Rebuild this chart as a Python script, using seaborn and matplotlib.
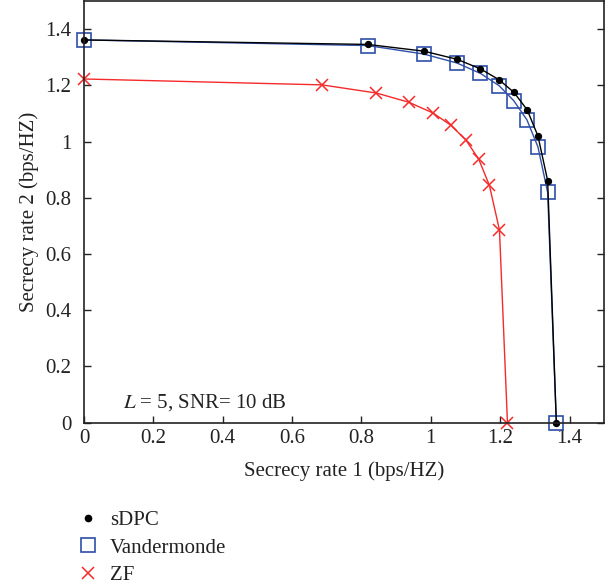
import numpy as np
import pandas as pd
import matplotlib
matplotlib.use("Agg")
import matplotlib.pyplot as plt
import seaborn as sns
from matplotlib.lines import Line2D

# values
sdpc_x = [0.0, 0.818, 0.980, 1.076, 1.143, 1.196, 1.240, 1.278, 1.309, 1.337, 1.362]
sdpc_y = [1.362, 1.346, 1.322, 1.293, 1.259, 1.221, 1.175, 1.113, 1.020, 0.861, 0.0]

vand_x = [0.0, 0.818, 0.979, 1.075, 1.143, 1.197, 1.239, 1.277, 1.309, 1.337, 1.362]
vand_y = [1.362, 1.342, 1.312, 1.280, 1.243, 1.199, 1.146, 1.078, 0.981, 0.819, 0.0]

zf_x = [0.0, 0.686, 0.843, 0.937, 1.006, 1.057, 1.101, 1.138, 1.169, 1.198, 1.221]
zf_y = [1.223, 1.202, 1.173, 1.140, 1.102, 1.059, 1.006, 0.938, 0.844, 0.685, 0.0]

x_ticks = [0, 0.2, 0.4, 0.6, 0.8, 1, 1.2, 1.4]
y_ticks = [0, 0.2, 0.4, 0.6, 0.8, 1, 1.2, 1.4]
tick_labels = ['0', '0.2', '0.4', '0.6', '0.8', '1', '1.2', '1.4']

sns.set_theme(style="white")
plt.rcParams['font.family'] = ['Liberation Serif', 'DejaVu Serif']
plt.rcParams['mathtext.fontset'] = 'stix'

fig = plt.figure(figsize=(6.14, 5.86), dpi=100)
ax = fig.add_axes([0.137, 0.279, 0.847, 0.719])

blue = '#2f4fa8'
red = '#f52a2a'
ink = '#222222'

df_s = pd.DataFrame({'x': sdpc_x, 'y': sdpc_y})
df_v = pd.DataFrame({'x': vand_x, 'y': vand_y})
df_z = pd.DataFrame({'x': zf_x, 'y': zf_y})

sns.lineplot(data=df_z, x='x', y='y', sort=False, ax=ax, color=red, lw=1.0,
             marker='x', markersize=8, markeredgewidth=1.1, markeredgecolor=red,
             clip_on=False)
sns.lineplot(data=df_v, x='x', y='y', sort=False, ax=ax, color=blue, lw=1.0,
             marker='s', markersize=10, markerfacecolor='none', markeredgecolor=blue,
             markeredgewidth=1.2, clip_on=False)
sns.lineplot(data=df_s, x='x', y='y', sort=False, ax=ax, color='black', lw=1.0,
             marker='o', markersize=4.5, markeredgecolor='black', clip_on=False)

ax.set_xlim(0, 1.5)
ax.set_ylim(0, 1.5)
ax.set_xticks(x_ticks)
ax.set_yticks(y_ticks)
ax.set_xticklabels(tick_labels)
ax.set_yticklabels(tick_labels)
ax.tick_params(direction='in', length=5, width=1, labelsize=15, colors=ink,
               right=True, left=True, bottom=True)
ax.tick_params(axis='x', pad=5)
ax.tick_params(axis='y', pad=9, labelright=False)
for side in ['left', 'bottom', 'right', 'top']:
    ax.spines[side].set_color(ink)
    ax.spines[side].set_linewidth(1.2)

ax.set_xlabel('Secrecy rate 1 (bps/HZ)', fontsize=15, color=ink, labelpad=9)
ax.set_ylabel('Secrecy rate 2 (bps/HZ)', fontsize=15, color=ink, labelpad=5)

ax.text(0.112, 0.07, r'$L$ = 5, SNR= 10 dB', fontsize=15, color=ink, va='center')

handles = [
    Line2D([], [], ls='none', marker='o', color='black', markersize=4.5),
    Line2D([], [], ls='none', marker='s', markerfacecolor='none', markeredgecolor=blue,
           markersize=10, markeredgewidth=1.2),
    Line2D([], [], ls='none', marker='x', color=red, markersize=8, markeredgewidth=1.1),
]
fig.legend(handles, ['sDPC', 'Vandermonde', 'ZF'], loc='upper left',
           bbox_to_anchor=(0.113, 0.143), frameon=False, fontsize=15,
           handlelength=1.0, handletextpad=0.55, labelspacing=0.38, labelcolor=ink,
           borderaxespad=0)

fig.savefig('out.png', dpi=100)
